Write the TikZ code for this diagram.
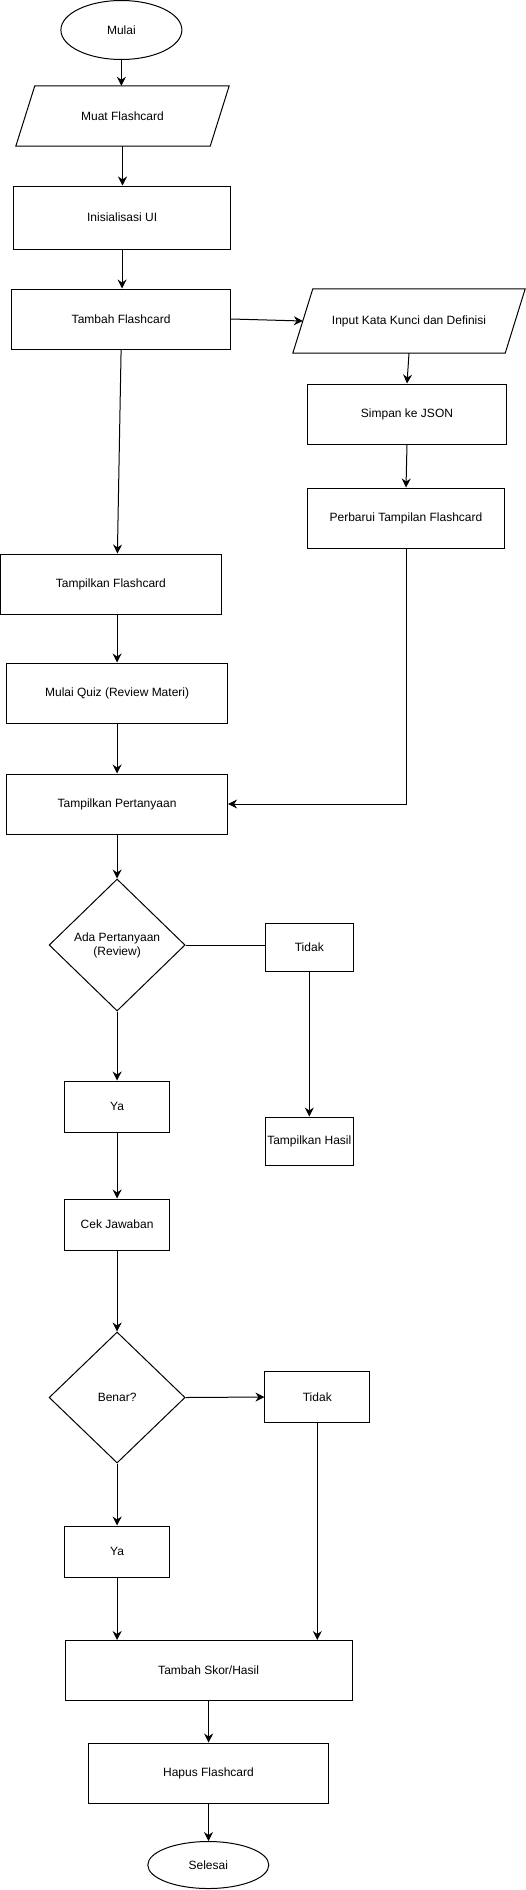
\documentclass[tikz,border=0pt]{standalone}
\usepackage{fontspec}
\setmainfont{Liberation Sans}
\usepackage{tikz}
\usetikzlibrary{arrows.meta,shapes.geometric,positioning}
\definecolor{flowink}{HTML}{000000}
\definecolor{flowpaper}{HTML}{FFFFFF}
\tikzset{
  flowtext/.style={font=\fontsize{12pt}{14pt}\selectfont, text=flowink, align=center},
  flowbox/.style={flowtext, rectangle, draw=flowink, fill=flowpaper, line width=1pt, inner sep=0pt},
  flowstart/.style={flowtext, ellipse, draw=flowink, fill=flowpaper, line width=1pt, inner sep=0pt},
  flowdecision/.style={flowtext, diamond, draw=flowink, fill=flowpaper, line width=1pt, inner sep=0pt},
  flowio/.style={flowtext, rectangle, inner sep=0pt},
  flowarrow/.style={flowink, line width=1pt, -{Stealth[length=9pt, width=9pt, inset=3pt]}},
  flowline/.style={flowink, line width=1pt}
}

\begin{document}
\begin{tikzpicture}[x=1pt, y=-1pt]
  \useasboundingbox[fill=flowpaper] (0,0) rectangle (526,1890);
  \node[flowstart, minimum width=121pt, minimum height=59pt] (mulai) at (121.4,30) {Mulai};
  \node[flowio, minimum width=213pt, minimum height=60pt] (muat) at (122.5,116) {Muat Flashcard};
  \draw[flowline] ([xshift=19pt]muat.north west) -- (muat.north east) -- ([xshift=-19pt]muat.south east) -- (muat.south west) -- cycle;
  \node[flowbox, minimum width=217pt, minimum height=63pt] (inisial) at (122.1,217.5) {Inisialisasi UI};
  \node[flowbox, minimum width=219pt, minimum height=60pt] (tambah) at (121.1,319) {Tambah Flashcard};
  \node[flowio, minimum width=232pt, minimum height=64pt] (input) at (409,321) {Input Kata Kunci dan Definisi};
  \draw[flowline] ([xshift=20pt]input.north west) -- (input.north east) -- ([xshift=-20pt]input.south east) -- (input.south west) -- cycle;
  \node[flowbox, minimum width=199pt, minimum height=60pt] (simpan) at (407,414) {Simpan ke JSON};
  \node[flowbox, minimum width=197pt, minimum height=60pt] (perbarui) at (406,518) {Perbarui Tampilan Flashcard};
  \node[flowbox, minimum width=221pt, minimum height=60pt] (tampilfc) at (110.9,584) {Tampilkan Flashcard};
  \node[flowbox, minimum width=221pt, minimum height=60pt] (quiz) at (117.1,693) {Mulai Quiz (Review Materi)};
  \node[flowbox, minimum width=221pt, minimum height=60pt] (tanya) at (117.1,804) {Tampilkan Pertanyaan};
  \node[flowdecision, minimum width=136pt, minimum height=132pt] (ada) at (117.1,945) {Ada Pertanyaan\\(Review)};
  \node[flowbox, minimum width=88.6pt, minimum height=48pt] (tidaka) at (309.3,947) {Tidak};
  \node[flowbox, minimum width=88.6pt, minimum height=48pt] (hasil) at (309.3,1141) {Tampilkan Hasil};
  \node[flowbox, minimum width=104.7pt, minimum height=51pt] (yaa) at (117.1,1106.5) {Ya};
  \node[flowbox, minimum width=104.7pt, minimum height=51pt] (cek) at (117.1,1224.5) {Cek Jawaban};
  \node[flowdecision, minimum width=136pt, minimum height=131pt] (benar) at (117.1,1397.5) {Benar?};
  \node[flowbox, minimum width=104.7pt, minimum height=51pt] (tidakb) at (317.3,1397) {Tidak};
  \node[flowbox, minimum width=104.7pt, minimum height=51pt] (yab) at (117.1,1551.5) {Ya};
  \node[flowbox, minimum width=287pt, minimum height=60pt] (skor) at (208.6,1670.5) {Tambah Skor/Hasil};
  \node[flowbox, minimum width=240.5pt, minimum height=60pt] (hapus) at (208.5,1773) {Hapus Flashcard};
  \node[flowstart, minimum width=121pt, minimum height=47pt] (selesai) at (208.3,1865) {Selesai};

  \draw[flowarrow] (mulai.south) -- (mulai.south |- muat.north);
  \draw[flowarrow] (muat.south) -- (muat.south |- inisial.north);
  \draw[flowarrow] (inisial.south) -- (inisial.south |- tambah.north);
  \draw[flowarrow] (tambah.east) -- ([xshift=10pt]input.west);
  \draw[flowarrow] (input.south) -- (simpan.north);
  \draw[flowarrow] (simpan.south) -- (perbarui.north);
  \draw[flowarrow] (tambah.south) -- ([xshift=6.5pt]tampilfc.north);
  \draw[flowarrow] (quiz.north |- tampilfc.south) -- (quiz.north);
  \draw[flowarrow] (quiz.south) -- (tanya.north);
  \draw[flowarrow] (perbarui.south) |- (tanya.east);
  \draw[flowarrow] (tanya.south) -- (ada.north);
  \draw[flowline] (ada.east) -- (ada.east -| tidaka.west);
  \draw[flowarrow] (tidaka.south) -- (hasil.north);
  \draw[flowarrow] (ada.south) -- (yaa.north);
  \draw[flowarrow] (yaa.south) -- (cek.north);
  \draw[flowarrow] (cek.south) -- (benar.north);
  \draw[flowarrow] (benar.east) -- (tidakb.west);
  \draw[flowarrow] (benar.south) -- (yab.north);
  \draw[flowarrow] (yab.south) -- (yab.south |- skor.north);
  \draw[flowarrow] (tidakb.south) -- (tidakb.south |- skor.north);
  \draw[flowarrow] (skor.south) -- (skor.south |- hapus.north);
  \draw[flowarrow] (hapus.south) -- (hapus.south |- selesai.north);
\end{tikzpicture}
\end{document}
